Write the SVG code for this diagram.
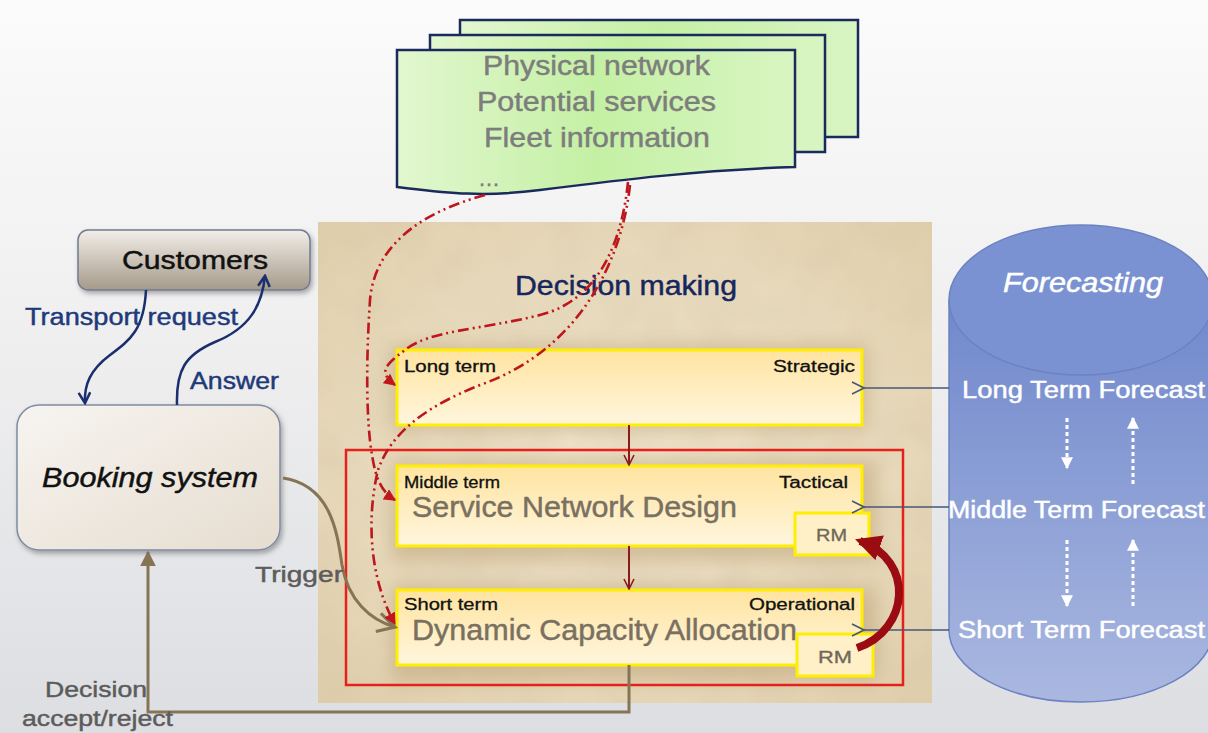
<svg xmlns="http://www.w3.org/2000/svg" width="1208" height="733" viewBox="0 0 1208 733">
<defs>
  <linearGradient id="bg" x1="0" y1="0" x2="0" y2="1">
    <stop offset="0" stop-color="#fbfbfb"/>
    <stop offset="0.5" stop-color="#eeeeef"/>
    <stop offset="1" stop-color="#dcdee2"/>
  </linearGradient>
  <radialGradient id="parch" cx="0.5" cy="0.5" r="0.75">
    <stop offset="0" stop-color="#efe4cc"/>
    <stop offset="0.6" stop-color="#e8dabb"/>
    <stop offset="1" stop-color="#dfcda8"/>
  </radialGradient>
  <filter id="tex" x="0" y="0" width="1" height="1">
    <feTurbulence type="fractalNoise" baseFrequency="0.02" numOctaves="3" seed="4" result="n"/>
    <feColorMatrix in="n" type="matrix" values="0 0 0 0 0.6  0 0 0 0 0.5  0 0 0 0 0.35  0 0 0 0.35 -0.05" result="c"/>
    <feComposite in="c" in2="SourceGraphic" operator="in" result="m"/>
    <feMerge><feMergeNode in="SourceGraphic"/><feMergeNode in="m"/></feMerge>
  </filter>
  <filter id="glow" x="-10%" y="-40%" width="120%" height="180%">
    <feGaussianBlur stdDeviation="9"/>
  </filter>
  <filter id="shadow" x="-10%" y="-20%" width="130%" height="150%">
    <feDropShadow dx="2" dy="3" stdDeviation="2.5" flood-color="#000" flood-opacity="0.3"/>
  </filter>
  <linearGradient id="doc" x1="0" y1="0" x2="1" y2="0">
    <stop offset="0" stop-color="#e2f7cf"/>
    <stop offset="0.5" stop-color="#c4f0a4"/>
    <stop offset="1" stop-color="#d8f5c2"/>
  </linearGradient>
  <linearGradient id="cust" x1="0" y1="0" x2="0" y2="1">
    <stop offset="0" stop-color="#f2eee8"/>
    <stop offset="1" stop-color="#a59a8a"/>
  </linearGradient>
  <linearGradient id="book" x1="0" y1="0" x2="1" y2="1">
    <stop offset="0" stop-color="#f7f4f0"/>
    <stop offset="1" stop-color="#e6ddd0"/>
  </linearGradient>
  <linearGradient id="ybox" x1="0" y1="0" x2="0" y2="1">
    <stop offset="0" stop-color="#ffe4a0"/>
    <stop offset="1" stop-color="#fff6de"/>
  </linearGradient>
  <linearGradient id="cyl" x1="0" y1="0" x2="0" y2="1">
    <stop offset="0" stop-color="#7088cc"/>
    <stop offset="1" stop-color="#aab8e0"/>
  </linearGradient>
  <marker id="openDR" viewBox="0 0 12 12" refX="11" refY="6" markerWidth="12" markerHeight="12" markerUnits="userSpaceOnUse" orient="auto">
    <path d="M1,1 L11,6 L1,11" fill="none" stroke="#8b1a1a" stroke-width="1.6"/>
  </marker>
  <marker id="openBlue" viewBox="0 0 14 14" refX="1" refY="7" markerWidth="14" markerHeight="14" markerUnits="userSpaceOnUse" orient="auto">
    <path d="M13,1 L1,7 L13,13" fill="none" stroke="#4a5676" stroke-width="1.6"/>
  </marker>
  <marker id="navy" viewBox="0 0 12 12" refX="10" refY="6" markerWidth="14" markerHeight="14" markerUnits="userSpaceOnUse" orient="auto">
    <path d="M1,1 L10,6 L1,11" fill="none" stroke="#1b2f6e" stroke-width="2.2"/>
  </marker>
  <marker id="redtri" viewBox="0 0 10 10" refX="9" refY="5" markerWidth="12" markerHeight="12" markerUnits="userSpaceOnUse" orient="auto">
    <path d="M0,0 L10,5 L0,10 Z" fill="#c0161c"/>
  </marker>
  <marker id="brownTri" viewBox="0 0 10 10" refX="9" refY="5" markerWidth="16" markerHeight="16" markerUnits="userSpaceOnUse" orient="auto">
    <path d="M0,0 L10,5 L0,10 Z" fill="#857555"/>
  </marker>
  <marker id="brownOpen" viewBox="0 0 14 14" refX="12" refY="7" markerWidth="22" markerHeight="22" markerUnits="userSpaceOnUse" orient="auto">
    <path d="M1,1 L12,7 L1,13" fill="none" stroke="#857555" stroke-width="2"/>
  </marker>
  <marker id="whiteTri" viewBox="0 0 10 10" refX="9" refY="5" markerWidth="12" markerHeight="12" markerUnits="userSpaceOnUse" orient="auto">
    <path d="M0,0 L10,5 L0,10 Z" fill="#ffffff"/>
  </marker>
  <marker id="rmHead" viewBox="0 0 10 10" refX="8" refY="5" markerWidth="26" markerHeight="26" markerUnits="userSpaceOnUse" orient="auto">
    <path d="M0,0 L10,5 L0,10 Z" fill="#9a0c12"/>
  </marker>
  <style>
    text { font-family: "Liberation Sans", Arial, sans-serif; stroke-width: 0.45; }
    .doc { fill: url(#doc); stroke: #1a2a5c; stroke-width: 2.5; }
    .doctxt { font-size: 27px; fill: #7d7d7d; stroke: #7d7d7d; }
    .ybox { fill: url(#ybox); stroke: #ffee00; stroke-width: 3; }
    .rm { fill: #fff0c8; stroke: #ffee00; stroke-width: 3; }
    .lbl { font-size: 16px; fill: #111; stroke: #111; stroke-width: 0.3; }
    .big { font-size: 29px; fill: #7a7062; stroke: #7a7062; }
    .rmt { font-size: 17px; fill: #6f6757; stroke: #6f6757; stroke-width: 0.3; }
    .fc { font-size: 23px; fill: #ffffff; stroke: #ffffff; }
    .dd { fill: none; stroke: #bd161c; stroke-width: 2.6; stroke-dasharray: 11 4 2 4 2 4; }
    .navy { fill: none; stroke: #1b2f6e; stroke-width: 2.5; }
    .navyt { font-size: 23px; fill: #1f3a7a; stroke: #1f3a7a; }
    .brown { fill: none; stroke: #857555; stroke-width: 3; }
    .gray { font-size: 22px; fill: #5c5c5c; stroke: #5c5c5c; }
    .fline { stroke: #4a5676; stroke-width: 1.6; fill: none; }
    .wdot { stroke: #ffffff; stroke-width: 3; stroke-dasharray: 4 3; fill: none; }
  </style>
</defs>

<rect x="0" y="0" width="1208" height="733" fill="url(#bg)"/>

<g id="decision-panel">
  <rect x="318" y="222" width="614" height="481" fill="url(#parch)" filter="url(#tex)"/>
  <g opacity="0.45" fill="#b89a6a" filter="url(#glow)">
    <rect x="392" y="345" width="475" height="85"/>
    <rect x="392" y="461" width="485" height="100"/>
    <rect x="392" y="585" width="485" height="96"/>
  </g>
  <text x="515" y="295" font-size="27" fill="#17275e" stroke="#17275e" textLength="222" lengthAdjust="spacingAndGlyphs">Decision making</text>
</g>

<g id="documents">
  <rect class="doc" x="460" y="20" width="398" height="117"/>
  <rect class="doc" x="430" y="35" width="395" height="117"/>
  <path class="doc" d="M397,50 L795,50 L795,167 C700,170 620,180 540,190 C480,198 440,192 397,187 Z"/>
  <text class="doctxt" x="483" y="75" textLength="227" lengthAdjust="spacingAndGlyphs">Physical network</text>
  <text class="doctxt" x="477" y="111" textLength="239" lengthAdjust="spacingAndGlyphs">Potential services</text>
  <text class="doctxt" x="484" y="147" textLength="226" lengthAdjust="spacingAndGlyphs">Fleet information</text>
  <text x="478" y="186" font-size="22" fill="#7d7d7d" stroke="#7d7d7d">…</text>
</g>

<g id="customers">
  <rect x="78" y="230" width="232" height="60" rx="10" fill="url(#cust)" stroke="#6f7c90" stroke-width="1.5" filter="url(#shadow)"/>
  <text x="122" y="269" font-size="25" fill="#111" stroke="#111" textLength="146" lengthAdjust="spacingAndGlyphs">Customers</text>
</g>

<g id="booking">
  <rect x="17" y="405" width="263" height="145" rx="22" fill="url(#book)" stroke="#7d8ca3" stroke-width="1.5" filter="url(#shadow)"/>
  <text x="42" y="487" font-size="27" font-style="italic" fill="#111" stroke="#111" textLength="216" lengthAdjust="spacingAndGlyphs">Booking system</text>
</g>

<g id="forecasting">
  <path d="M949,300 L949,630 A132,72 0 0 0 1213,630 L1213,300 Z" fill="url(#cyl)"/>
  <path d="M949,630 A132,72 0 0 0 1213,630" fill="none" stroke="#6c82c2" stroke-width="1.5"/>
  <line x1="949" y1="300" x2="949" y2="630" stroke="#6c82c2" stroke-width="1.5"/>
  <ellipse cx="1081" cy="300" rx="132" ry="75" fill="#7b92d2" stroke="#6c82c2" stroke-width="1.5"/>
  <text x="1003" y="292" font-size="27" font-style="italic" fill="#ffffff" stroke="#ffffff" textLength="160" lengthAdjust="spacingAndGlyphs">Forecasting</text>
  <text class="fc" x="962" y="398" textLength="243" lengthAdjust="spacingAndGlyphs">Long Term Forecast</text>
  <text class="fc" x="948" y="518" textLength="257" lengthAdjust="spacingAndGlyphs">Middle Term Forecast</text>
  <text class="fc" x="958" y="638" textLength="247" lengthAdjust="spacingAndGlyphs">Short Term Forecast</text>
</g>

<g id="long-term">
  <rect class="ybox" x="397" y="350" width="465" height="75"/>
  <text class="lbl" x="404" y="372" textLength="92" lengthAdjust="spacingAndGlyphs">Long term</text>
  <text class="lbl" x="773" y="372" textLength="82" lengthAdjust="spacingAndGlyphs">Strategic</text>
</g>

<g id="middle-term">
  <rect class="ybox" x="397" y="466" width="465" height="80"/>
  <text class="lbl" x="404" y="488" textLength="96" lengthAdjust="spacingAndGlyphs">Middle term</text>
  <text class="lbl" x="779" y="488" textLength="69" lengthAdjust="spacingAndGlyphs">Tactical</text>
  <text class="big" x="412" y="517" textLength="325" lengthAdjust="spacingAndGlyphs">Service Network Design</text>
</g>
<g id="rm-middle">
  <rect class="rm" x="795" y="513" width="74" height="42"/>
  <text class="rmt" x="816" y="541" textLength="31" lengthAdjust="spacingAndGlyphs">RM</text>
</g>

<g id="short-term">
  <rect class="ybox" x="397" y="590" width="465" height="75"/>
  <text class="lbl" x="404" y="610" textLength="94" lengthAdjust="spacingAndGlyphs">Short term</text>
  <text class="lbl" x="749" y="610" textLength="106" lengthAdjust="spacingAndGlyphs">Operational</text>
  <text class="big" x="412" y="640" textLength="385" lengthAdjust="spacingAndGlyphs">Dynamic Capacity Allocation</text>
</g>
<g id="rm-short">
  <rect class="rm" x="797" y="634" width="76" height="42"/>
  <text class="rmt" x="818" y="663" textLength="34" lengthAdjust="spacingAndGlyphs">RM</text>
</g>

<g id="red-frame">
  <rect x="346" y="450" width="557" height="235" fill="none" stroke="#e8201c" stroke-width="2.5"/>
</g>

<g id="connectors">
  <line x1="629" y1="425" x2="629" y2="465" stroke="#8b1a1a" stroke-width="2" marker-end="url(#openDR)"/>
  <line x1="629" y1="546" x2="629" y2="589" stroke="#8b1a1a" stroke-width="2" marker-end="url(#openDR)"/>

  <line class="fline" x1="949" y1="388" x2="864" y2="388" marker-end="url(#openBlue)"/>
  <line class="fline" x1="949" y1="507" x2="864" y2="507" marker-end="url(#openBlue)"/>
  <line class="fline" x1="949" y1="630" x2="864" y2="630" marker-end="url(#openBlue)"/>

  <line class="wdot" x1="1067" y1="418" x2="1067" y2="468" marker-end="url(#whiteTri)"/>
  <line class="wdot" x1="1133" y1="484" x2="1133" y2="418" marker-end="url(#whiteTri)"/>
  <line class="wdot" x1="1067" y1="540" x2="1067" y2="606" marker-end="url(#whiteTri)"/>
  <line class="wdot" x1="1133" y1="606" x2="1133" y2="540" marker-end="url(#whiteTri)"/>

  <path class="navy" d="M146,290 C144,330 130,340 110,355 C90,370 84,385 85,403" marker-end="url(#navy)"/>
  <path class="navy" d="M177,405 C176,370 185,355 215,342 C250,328 262,305 265,276" marker-end="url(#navy)"/>
  <text class="navyt" x="25" y="325" textLength="213" lengthAdjust="spacingAndGlyphs">Transport request</text>
  <text class="navyt" x="190" y="389" textLength="89" lengthAdjust="spacingAndGlyphs">Answer</text>

  <path class="brown" d="M283,478 C330,485 337,530 342,565 C348,600 370,620 395,627" marker-end="url(#brownOpen)"/>
  <text class="gray" x="255" y="582" textLength="88" lengthAdjust="spacingAndGlyphs">Trigger</text>

  <path class="brown" d="M629,665 L629,712 L148,712 L148,552" marker-end="url(#brownTri)"/>
  <text class="gray" x="45" y="697" textLength="102" lengthAdjust="spacingAndGlyphs">Decision</text>
  <text class="gray" x="22" y="726" textLength="151" lengthAdjust="spacingAndGlyphs">accept/reject</text>

  <path class="dd" d="M485,195 C430,210 375,240 370,300 C366,360 366,420 372,455 C376,480 382,492 395,500" marker-end="url(#redtri)"/>
  <path class="dd" d="M628,182 C622,240 600,300 540,315 C480,330 430,330 405,350 C385,365 378,372 395,385" marker-end="url(#redtri)"/>
  <path class="dd" d="M630,185 C622,260 580,350 480,385 C430,405 392,430 378,470 C366,520 370,580 395,624" marker-end="url(#redtri)"/>

  <path d="M857,648 C910,630 915,560 860,541" fill="none" stroke="#9a0c12" stroke-width="8" marker-end="url(#rmHead)"/>
</g>
</svg>
